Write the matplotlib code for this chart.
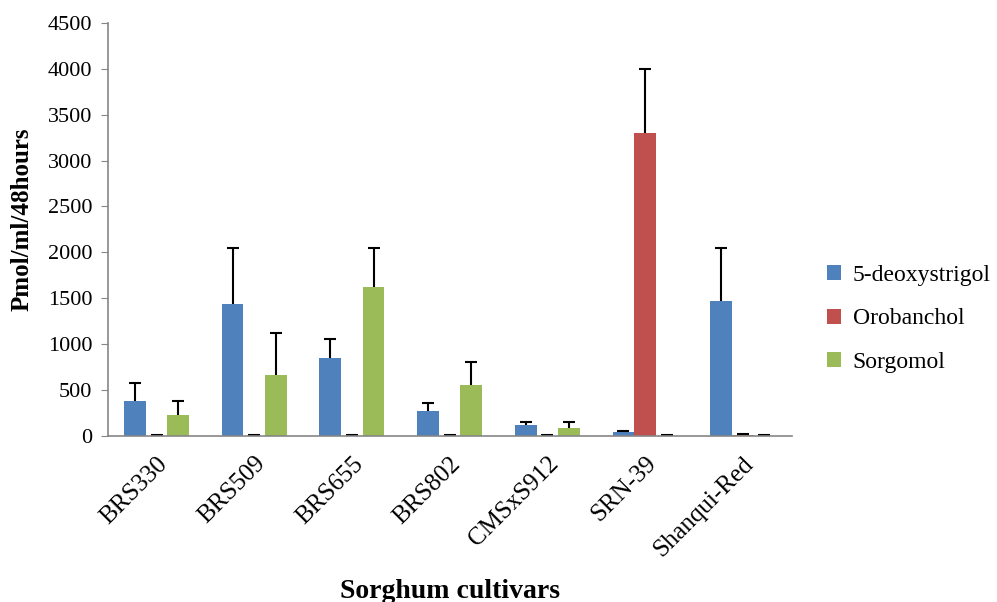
import numpy as np
import matplotlib.pyplot as plt

plt.rcParams['font.family'] = ['Liberation Serif', 'DejaVu Serif']

cultivars = ['BRS330', 'BRS509', 'BRS655', 'BRS802', 'CMSxS912', 'SRN-39', 'Shanqui-Red']
deoxy = [381, 1435, 850, 272, 120, 47, 1470]
deoxy_err = [193, 610, 210, 90, 28, 5, 580]
orob = [3, 3, 3, 3, 3, 3300, 8]
orob_err = [5, 5, 5, 5, 5, 700, 12]
sorg = [229, 665, 1623, 550, 84, 3, 3]
sorg_err = [148, 455, 425, 255, 62, 5, 5]

colors = ['#4F81BD', '#C0504D', '#9BBB59']
labels = ['5-deoxystrigol', 'Orobanchol', 'Sorgomol']

fig = plt.figure(figsize=(9.97, 6.02), dpi=100)
ax = fig.add_axes([0.108, 0.276, 0.686, 0.686])

x = np.arange(len(cultivars))
w = 0.222
series = [(deoxy, deoxy_err), (orob, orob_err), (sorg, sorg_err)]
for i, (vals, errs) in enumerate(series):
    vals = np.array(vals)
    errs = np.array(errs)
    pos = x + (i - 1) * w
    ax.bar(pos, vals, w, color=colors[i], label=labels[i])
    # plus-only error bars, cap at the top only
    ax.vlines(pos, vals, vals + errs, color='black', linewidth=1.5)
    ax.plot(pos, vals + errs, linestyle='none', marker='_', markersize=8,
            markeredgewidth=1.5, color='black')

ax.set_xlim(-0.5, len(cultivars) - 0.5)
ax.set_ylim(0, 4500)
ax.set_yticks(np.arange(0, 4501, 500))
ax.set_xticks(x)
ax.set_xticklabels(cultivars, rotation=45, ha='right', rotation_mode='anchor')
ax.tick_params(axis='y', labelsize=16, length=5, color='#868686', direction='out', pad=6)
ax.tick_params(axis='x', labelsize=18, length=0, pad=12)

for s in ['top', 'right']:
    ax.spines[s].set_visible(False)
for s in ['left', 'bottom']:
    ax.spines[s].set_color('#868686')
    ax.spines[s].set_linewidth(1.2)

ax.set_ylabel('Pmol/ml/48hours', fontsize=18, fontweight='bold')
ax.yaxis.set_label_coords(-0.108, 0.525)
ax.set_xlabel('Sorghum cultivars', fontsize=20, fontweight='bold', labelpad=13)

ax.legend(loc='center left', bbox_to_anchor=(1.02, 0.283), frameon=False,
          fontsize=17, handlelength=0.6, handleheight=0.6, labelspacing=0.95,
          handletextpad=0.5)

fig.savefig('out.png', dpi=100)
